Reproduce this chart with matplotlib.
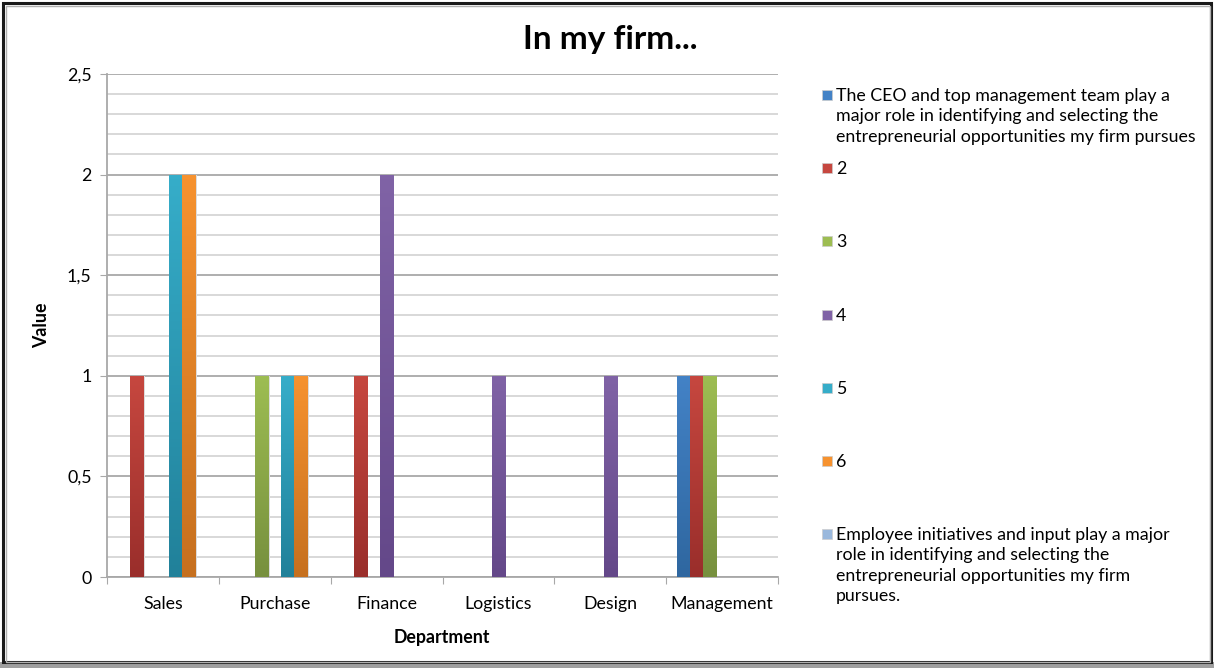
"""
Clustered bar chart: answers per department for the "In my firm..." question.
Writes out.png
"""
import numpy as np
import matplotlib
matplotlib.use("Agg")
import matplotlib.pyplot as plt
from matplotlib.colors import LinearSegmentedColormap
from matplotlib.patches import Rectangle

plt.rcParams["font.family"] = ["Lato", "DejaVu Sans"]

departments = ["Sales", "Purchase", "Finance", "Logistics", "Design", "Management"]

series_labels = [
    "The CEO and top management team play a\nmajor role in identifying and selecting the\n"
    "entrepreneurial opportunities my firm pursues",
    "2",
    "3",
    "4",
    "5",
    "6",
    "Employee initiatives and input play a major\nrole in identifying and selecting the\n"
    "entrepreneurial opportunities my firm\npursues.",
]

ceo_role = [0, 0, 0, 0, 0, 1]
answer_2 = [1, 0, 1, 0, 0, 1]
answer_3 = [0, 1, 0, 0, 0, 1]
answer_4 = [0, 0, 2, 1, 1, 0]
answer_5 = [2, 1, 0, 0, 0, 0]
answer_6 = [2, 1, 0, 0, 0, 0]
employee_role = [0, 0, 0, 0, 0, 0]

series_values = [ceo_role, answer_2, answer_3, answer_4, answer_5, answer_6, employee_role]

y_ticks = [0, 0.5, 1, 1.5, 2, 2.5]
y_tick_labels = ["0", "0,5", "1", "1,5", "2", "2,5"]

# (top, bottom) colour of the gradient fill for each series
series_colors = [
    ("#4382c6", "#2f67a0"),
    ("#c6473f", "#9a2e2b"),
    ("#9dbd52", "#77903e"),
    ("#8063a6", "#644889"),
    ("#36adc9", "#21819a"),
    ("#f6922f", "#c6701f"),
    ("#9ab8dc", "#7896bd"),
]

FS = 12.8
W, H = 1214, 668
fig = plt.figure(figsize=(W / 100, H / 100), dpi=100)
ax = fig.add_axes([107 / W, 1 - 577 / H, (778 - 107) / W, (577 - 74) / H])

n_series = len(series_values)
bar_w = 0.1163
x = np.arange(len(departments)) + 0.5
grad = np.linspace(0, 1, 64).reshape(-1, 1)

for i, (vals, (c_top, c_bot)) in enumerate(zip(series_values, series_colors)):
    offs = (i - (n_series - 1) / 2) * bar_w
    bars = ax.bar(x + offs, vals, width=bar_w, color=c_top, linewidth=0, zorder=3)
    cmap = LinearSegmentedColormap.from_list(f"s{i}", [c_bot, c_top])
    for b in bars:
        h = b.get_height()
        if h <= 0:
            continue
        # light shadow on the right side of the bar
        ax.add_patch(Rectangle((b.get_x() + b.get_width(), 0), 0.012, h,
                               color="#dcdcdc", lw=0, zorder=2.5))
        im = ax.imshow(grad, cmap=cmap, origin="lower", aspect="auto",
                       extent=[b.get_x(), b.get_x() + b.get_width(), 0, h],
                       zorder=3.5, interpolation="bilinear")
        im.set_clip_path(b)

ax.set_xlim(0, len(departments))
ax.set_ylim(0, 2.5)

# y axis: major at 0.5, minor grid every 0.1
ax.set_yticks(y_ticks)
ax.set_yticklabels(y_tick_labels)
ax.set_yticks(np.arange(0, 2.51, 0.1), minor=True)
ax.yaxis.grid(True, which="major", color="#a8a8a8", lw=1.3, zorder=1)
ax.yaxis.grid(True, which="minor", color="#d6d6d6", lw=1.3, zorder=0.5)
ax.tick_params(axis="y", which="major", length=5, color="#a8a8a8",
               labelsize=FS, pad=6)
ax.tick_params(axis="y", which="minor", length=0)

# x axis: ticks at category edges, labels at centres
ax.set_xticks(np.arange(len(departments) + 1))
ax.set_xticklabels([])
ax.set_xticks(x, minor=True)
ax.set_xticklabels(departments, minor=True)
ax.tick_params(axis="x", which="major", length=5, color="#a8a8a8")
ax.tick_params(axis="x", which="minor", length=0, labelsize=FS, pad=14)

for side in ("top", "right"):
    ax.spines[side].set_visible(False)
for side in ("left", "bottom"):
    ax.spines[side].set_color("#a8a8a8")
    ax.spines[side].set_linewidth(1.3)
ax.set_axisbelow(True)

fig.text(42 / W, 1 - 325 / H, "Value", rotation=90, ha="center", va="center",
         fontsize=FS, fontweight="bold")
fig.text(442 / W, 1 - 637 / H, "Department", ha="center", va="center",
         fontsize=FS, fontweight="bold")
fig.text(610 / W, 1 - 40 / H, "In my firm...", ha="center", va="center",
         fontsize=24, fontweight="bold")

# legend, drawn entry by entry so long labels keep an even spacing
for i, (label, (c_top, c_bot)) in enumerate(zip(series_labels, series_colors)):
    yc = 95 + i * 73.2
    fig.patches.append(Rectangle((822 / W, 1 - (yc + 5) / H), 10 / W, 10 / H,
                                 transform=fig.transFigure, facecolor=c_top,
                                 edgecolor="#cccccc", lw=0.5))
    fig.text(836 / W, 1 - (yc - 7) / H, label, ha="left", va="top",
             fontsize=FS, linespacing=1.33)

# frame around the chart
fig.patches.append(Rectangle((0, 0), 1, 6 / H, transform=fig.transFigure,
                             facecolor="#a0a0a0", lw=0))
fig.patches.append(Rectangle((3 / W, 6 / H), (W - 6) / W, (H - 9) / H,
                             transform=fig.transFigure, fill=False,
                             edgecolor="#1a1a1a", lw=2.2))
fig.patches.append(Rectangle((5.5 / W, 6 / H), (W - 10) / W, (H - 11.5) / H,
                             transform=fig.transFigure, fill=False,
                             edgecolor="#b0b0b0", lw=1))

fig.savefig("out.png", dpi=100)
